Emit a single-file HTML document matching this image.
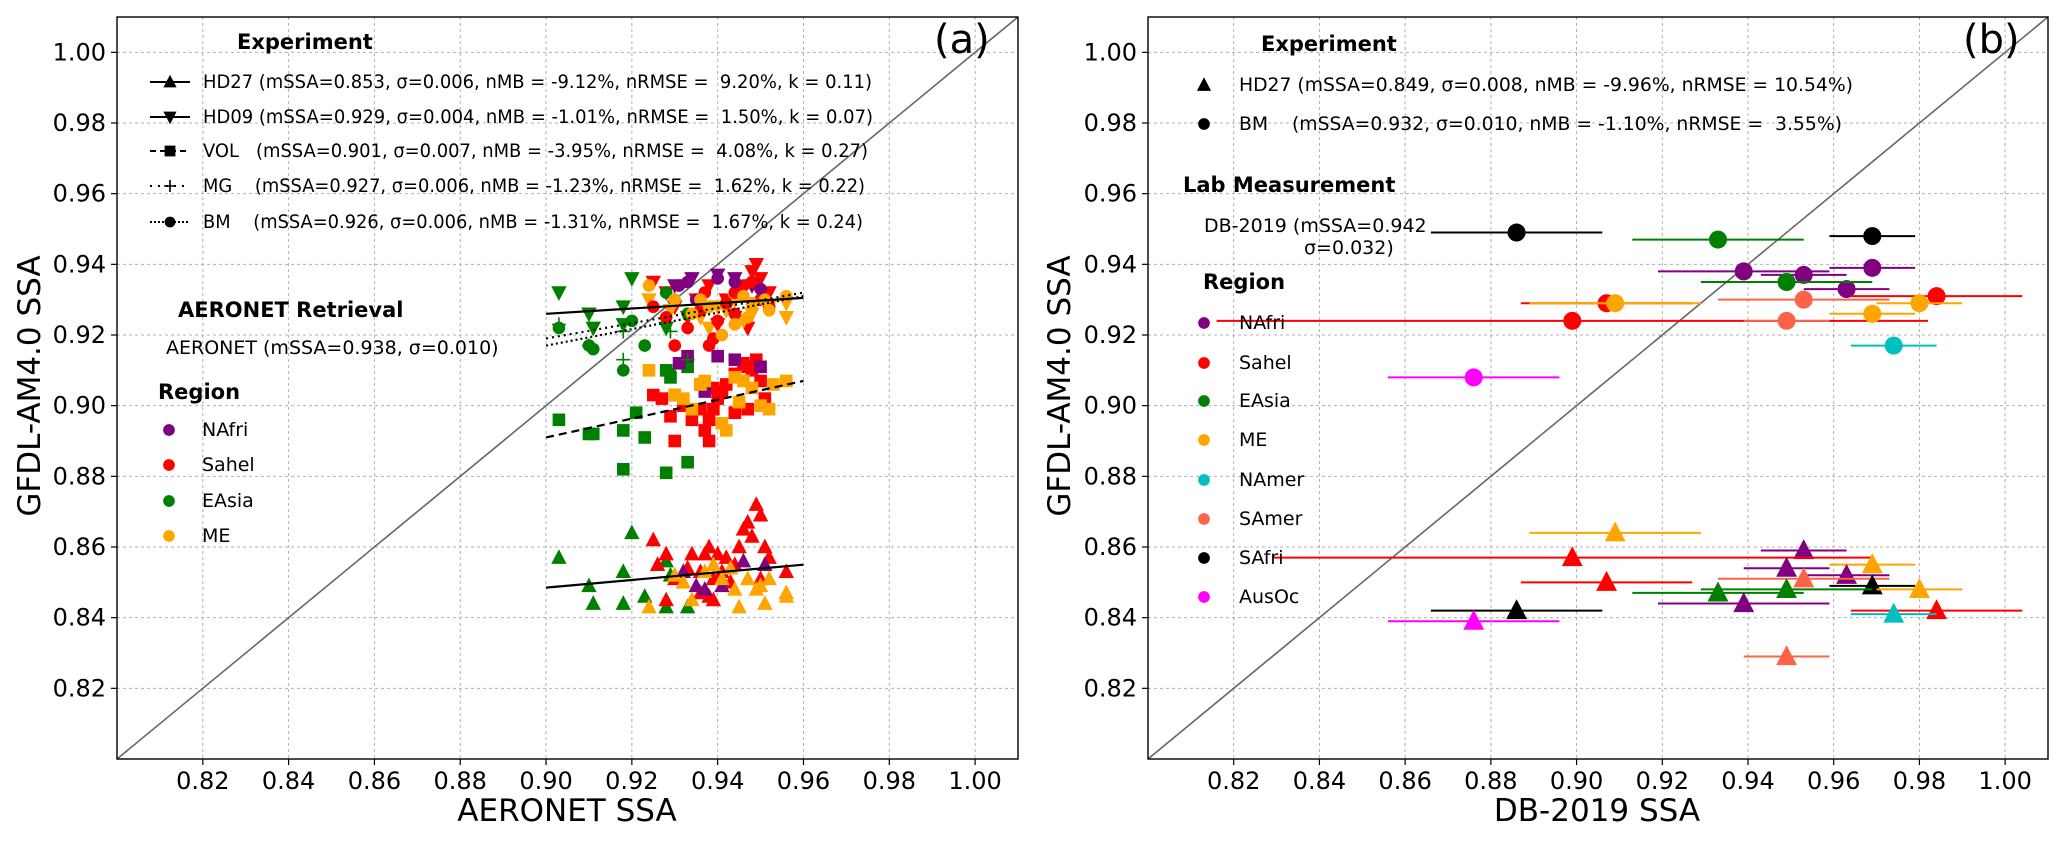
<!DOCTYPE html>
<html><head><meta charset="utf-8">
<style>
html,body{margin:0;padding:0;background:#fff;}
svg{display:block;font-family:"DejaVu Sans","Liberation Sans",sans-serif;}
svg text{white-space:pre;}
</style></head>
<body>
<svg id="fig" width="2067" height="841" viewBox="0 0 2067 841" xmlns="http://www.w3.org/2000/svg">
<g id="pa"></g>
<g id="pb"></g>
</svg>
<script>
// ---------- shared axis data ----------
const ticks = [0.82,0.84,0.86,0.88,0.90,0.92,0.94,0.96,0.98,1.00];
const tickLabels = ["0.82","0.84","0.86","0.88","0.90","0.92","0.94","0.96","0.98","1.00"];
const regionNamesA = ["NAfri","Sahel","EAsia","ME"];
const regionNamesB = ["NAfri","Sahel","EAsia","ME","NAmer","SAmer","SAfri","AusOc"];
const regionColors = {NAfri:"#800080",Sahel:"#ff0000",EAsia:"#008000",ME:"#ffa500",NAmer:"#00bfbf",SAmer:"#ff6347",SAfri:"#000000",AusOc:"#ff00ff"};

// ---------- panel (a) data: [AERONET, model] ----------
const hd27_EAsia = [[0.903,0.857],[0.910,0.849],[0.911,0.844],[0.918,0.853],[0.918,0.844],[0.920,0.864],[0.923,0.846],[0.928,0.843],[0.928,0.856],[0.933,0.843],[0.929,0.852]];
const hd27_Sahel = [[0.925,0.862],[0.926,0.855],[0.928,0.858],[0.930,0.851],[0.933,0.854],[0.934,0.858],[0.936,0.853],[0.937,0.858],[0.938,0.846],[0.938,0.860],[0.939,0.851],[0.940,0.858],[0.942,0.857],[0.943,0.850],[0.945,0.860],[0.946,0.865],[0.947,0.867],[0.948,0.863],[0.949,0.872],[0.950,0.869],[0.951,0.860],[0.952,0.857],[0.950,0.851],[0.956,0.853],[0.928,0.845],[0.936,0.847],[0.941,0.853],[0.944,0.855],[0.939,0.845]];
const hd27_NAfri = [[0.932,0.853],[0.935,0.849],[0.937,0.848],[0.946,0.856],[0.951,0.855],[0.941,0.849]];
const hd27_ME = [[0.924,0.843],[0.930,0.852],[0.932,0.850],[0.934,0.845],[0.937,0.853],[0.939,0.855],[0.941,0.851],[0.944,0.848],[0.945,0.843],[0.947,0.851],[0.949,0.848],[0.950,0.849],[0.951,0.844],[0.952,0.851],[0.956,0.846],[0.956,0.847],[0.943,0.854]];

const hd09_EAsia = [[0.903,0.932],[0.910,0.926],[0.911,0.922],[0.918,0.928],[0.920,0.936],[0.918,0.923],[0.928,0.922]];
const hd09_Sahel = [[0.925,0.935],[0.928,0.932],[0.930,0.928],[0.935,0.930],[0.938,0.934],[0.942,0.930],[0.946,0.933],[0.948,0.938],[0.949,0.940],[0.950,0.936],[0.952,0.932],[0.944,0.925],[0.940,0.923],[0.933,0.925],[0.947,0.922]];
const hd09_NAfri = [[0.930,0.934],[0.934,0.936],[0.940,0.937],[0.944,0.936],[0.948,0.934]];
const hd09_ME = [[0.929,0.927],[0.936,0.925],[0.940,0.928],[0.944,0.930],[0.946,0.924],[0.948,0.926],[0.952,0.928],[0.956,0.925],[0.956,0.929],[0.938,0.922],[0.924,0.930],[0.942,0.927]];

const vol_EAsia = [[0.903,0.896],[0.910,0.892],[0.911,0.892],[0.918,0.893],[0.918,0.882],[0.921,0.898],[0.923,0.891],[0.928,0.881],[0.928,0.910],[0.929,0.908],[0.933,0.884],[0.933,0.911]];
const vol_Sahel = [[0.925,0.903],[0.927,0.902],[0.929,0.897],[0.930,0.890],[0.932,0.900],[0.934,0.896],[0.936,0.899],[0.937,0.893],[0.938,0.890],[0.938,0.896],[0.939,0.899],[0.940,0.902],[0.941,0.904],[0.942,0.906],[0.944,0.909],[0.946,0.912],[0.947,0.911],[0.948,0.910],[0.949,0.913],[0.950,0.907],[0.951,0.902],[0.947,0.899],[0.944,0.898],[0.939,0.905],[0.936,0.906],[0.930,0.903]];
const vol_NAfri = [[0.931,0.912],[0.933,0.914],[0.940,0.914],[0.944,0.913],[0.950,0.911],[0.937,0.904]];
const vol_ME = [[0.924,0.910],[0.930,0.903],[0.932,0.902],[0.934,0.899],[0.936,0.906],[0.937,0.907],[0.941,0.895],[0.942,0.893],[0.945,0.901],[0.946,0.907],[0.948,0.905],[0.950,0.900],[0.952,0.899],[0.953,0.906],[0.956,0.907],[0.944,0.908]];

const mg_EAsia = [[0.903,0.923],[0.910,0.917],[0.918,0.913],[0.918,0.921],[0.929,0.921],[0.933,0.913]];

const bm_EAsia = [[0.903,0.922],[0.910,0.917],[0.911,0.916],[0.918,0.910],[0.920,0.924],[0.923,0.917],[0.928,0.932],[0.929,0.909],[0.933,0.926]];
const bm_Sahel = [[0.925,0.928],[0.928,0.925],[0.930,0.917],[0.933,0.922],[0.936,0.927],[0.938,0.917],[0.939,0.919],[0.940,0.924],[0.942,0.929],[0.944,0.932],[0.946,0.934],[0.948,0.935],[0.950,0.930],[0.952,0.928],[0.944,0.926],[0.937,0.932]];
const bm_NAfri = [[0.931,0.934],[0.933,0.935],[0.940,0.936],[0.944,0.935],[0.950,0.933],[0.935,0.930]];
const bm_ME = [[0.924,0.934],[0.930,0.930],[0.934,0.926],[0.936,0.930],[0.938,0.928],[0.941,0.920],[0.944,0.923],[0.946,0.931],[0.948,0.929],[0.951,0.930],[0.952,0.927],[0.956,0.931],[0.947,0.925]];

// regression lines: [x0,y0,x1,y1]
const fitHD27 = [0.90,0.8485,0.96,0.855];
const fitHD09 = [0.90,0.926,0.96,0.9305];
const fitVOL = [0.90,0.891,0.96,0.907];
const fitMG = [0.90,0.919,0.96,0.932];
const fitBM = [0.90,0.917,0.96,0.931];

const legendA = ["HD27 (mSSA=0.853, \u03c3=0.006, nMB = -9.12%, nRMSE =  9.20%, k = 0.11)",
 "HD09 (mSSA=0.929, \u03c3=0.004, nMB = -1.01%, nRMSE =  1.50%, k = 0.07)",
 "VOL   (mSSA=0.901, \u03c3=0.007, nMB = -3.95%, nRMSE =  4.08%, k = 0.27)",
 "MG    (mSSA=0.927, \u03c3=0.006, nMB = -1.23%, nRMSE =  1.62%, k = 0.22)",
 "BM    (mSSA=0.926, \u03c3=0.006, nMB = -1.31%, nRMSE =  1.67%, k = 0.24)"];

// ---------- panel (b) data ----------
const bmRegion = ["SAfri","EAsia","SAfri","NAfri","NAfri","NAfri","NAfri","EAsia","Sahel","ME","Sahel","SAmer","Sahel","ME","ME","SAmer","NAmer","AusOc"];
const bmX = [0.886,0.933,0.969,0.939,0.953,0.969,0.963,0.949,0.907,0.909,0.899,0.953,0.984,0.980,0.969,0.949,0.974,0.876];
const bmY = [0.949,0.947,0.948,0.938,0.937,0.939,0.933,0.935,0.929,0.929,0.924,0.930,0.931,0.929,0.926,0.924,0.917,0.908];
const bmErr = [0.020,0.020,0.010,0.020,0.010,0.010,0.010,0.020,0.020,0.020,0.083,0.020,0.020,0.010,0.010,0.010,0.010,0.020];
const hdRegion = ["ME","NAfri","Sahel","ME","NAfri","NAfri","SAmer","Sahel","SAfri","ME","EAsia","EAsia","NAfri","Sahel","SAfri","NAmer","AusOc","SAmer"];
const hdX = [0.909,0.953,0.899,0.969,0.949,0.963,0.953,0.907,0.969,0.980,0.933,0.949,0.939,0.984,0.886,0.974,0.876,0.949];
const hdY = [0.864,0.859,0.857,0.855,0.854,0.852,0.851,0.850,0.849,0.848,0.847,0.848,0.844,0.842,0.842,0.841,0.839,0.829];
const hdErr = [0.020,0.010,0.070,0.010,0.010,0.010,0.020,0.020,0.010,0.010,0.020,0.020,0.020,0.020,0.020,0.010,0.020,0.010];
const legendB = ["HD27 (mSSA=0.849, \u03c3=0.008, nMB = -9.96%, nRMSE = 10.54%)",
 "BM    (mSSA=0.932, \u03c3=0.010, nMB = -1.10%, nRMSE =  3.55%)"];

// ---------- helpers ----------
const NS="http://www.w3.org/2000/svg";
function el(parent,tag,attrs,txt){const e=document.createElementNS(NS,tag);for(const k in attrs)e.setAttribute(k,attrs[k]);if(txt!==undefined)e.textContent=txt;parent.appendChild(e);return e;}
const squeezeList=[];
function txt(parent,x,y,s,size,opts){opts=opts||{};
 const t=el(parent,"text",{x:x,y:y,"font-size":size,"text-anchor":opts.anchor||"start","dominant-baseline":"central","font-weight":opts.bold?"bold":"normal",fill:"#000"},s);
 if(opts.rot)t.setAttribute("transform","rotate(-90 "+x+" "+y+")");
 squeezeList.push(t);return t;}
function marker(g,shape,cx,cy,s,color){
 let m;
 if(shape==="up")m=el(g,"polygon",{points:`${cx},${cy-s*0.6} ${cx-s*0.55},${cy+s*0.45} ${cx+s*0.55},${cy+s*0.45}`,fill:color});
 else if(shape==="down")m=el(g,"polygon",{points:`${cx},${cy+s*0.6} ${cx-s*0.55},${cy-s*0.45} ${cx+s*0.55},${cy-s*0.45}`,fill:color});
 else if(shape==="sq")m=el(g,"rect",{x:cx-s*0.45,y:cy-s*0.45,width:s*0.9,height:s*0.9,fill:color});
 else if(shape==="circ")m=el(g,"circle",{cx:cx,cy:cy,r:s*0.45,fill:color});
 else if(shape==="plus")m=el(g,"path",{d:`M${cx-s*0.5},${cy}H${cx+s*0.5}M${cx},${cy-s*0.5}V${cy+s*0.5}`,stroke:color,"stroke-width":1.6,fill:"none"});
 return m;}

function axes(g,L,T,R,B){
 const sx=d=>L+(d-0.80)/0.21*(R-L), sy=d=>B-(d-0.80)/0.21*(B-T);
 const grid=el(g,"g",{});
 
 
 ticks.forEach((t,i)=>{
  el(grid,"line",{x1:sx(t),x2:sx(t),y1:T,y2:B,stroke:"#b0b0b0","stroke-width":1,"stroke-dasharray":"3,3"});
  el(grid,"line",{x1:L,x2:R,y1:sy(t),y2:sy(t),stroke:"#b0b0b0","stroke-width":1,"stroke-dasharray":"3,3"});
  el(g,"line",{x1:sx(t),x2:sx(t),y1:B,y2:B+6,stroke:"#000","stroke-width":1.2});
  el(g,"line",{x1:L-6,x2:L,y1:sy(t),y2:sy(t),stroke:"#000","stroke-width":1.2});
  const xl=txt(g,sx(t),B+22,tickLabels[i],24,{anchor:"middle"});
  
  
  const yl=txt(g,L-11,sy(t),tickLabels[i],24,{anchor:"end"});
  
  
 });
 const dg=el(g,"line",{x1:sx(0.80),y1:sy(0.80),x2:sx(1.01),y2:sy(1.01),stroke:"#666","stroke-width":1.6});
 
 
 return {sx,sy};
}
function frame(g,L,T,R,B){const f=el(g,"rect",{x:L,y:T,width:R-L,height:B-T,fill:"none",stroke:"#000","stroke-width":1.4});
 
 }

// ---------- panel (a) ----------
(function(){
 const g=document.getElementById("pa");
 const L=117,T=17,R=1018,B=759;
 const {sx,sy}=axes(g,L,T,R,B);
 const ms=14;
 const sets=[
  ["up",[hd27_EAsia,hd27_Sahel,hd27_NAfri,hd27_ME]],
  ["down",[hd09_EAsia,hd09_Sahel,hd09_NAfri,hd09_ME]],
  ["sq",[vol_EAsia,vol_Sahel,vol_NAfri,vol_ME]],
  ["circ",[bm_EAsia,bm_Sahel,bm_NAfri,bm_ME]],
  ["plus",[mg_EAsia]]];
 const cols=["EAsia","Sahel","NAfri","ME"];
 sets.forEach(([shape,arrs])=>{
  arrs.forEach((arr,ri)=>{
   const gg=el(g,"g",{});
   
   
   arr.forEach(p=>{const m=marker(gg,shape,sx(p[0]),sy(p[1]),ms,regionColors[cols[ri]]);
    
    });
  });
 });
 const fits=[[fitHD27,""],[fitHD09,""],[fitVOL,"8,5"],[fitMG,"2,4"],[fitBM,"2,3"]];
 fits.forEach(([f,d])=>{
  const ln=el(g,"line",{x1:sx(f[0]),y1:sy(f[1]),x2:sx(f[2]),y2:sy(f[3]),stroke:"#000","stroke-width":2.2,"stroke-dasharray":d});
  
  
 });
 frame(g,L,T,R,B);
 const lg=el(g,"g",{});
 
 
 txt(lg,237,42,"Experiment",21,{bold:true});
 const shapes=["up","down","sq","plus","circ"], dashes=["","","6,4","2,6","2,2"], rowY=[82,117,151,186,222];
 legendA.forEach((s,i)=>{
  el(lg,"line",{x1:150,x2:190,y1:rowY[i],y2:rowY[i],stroke:"#000","stroke-width":2,"stroke-dasharray":dashes[i]});
  marker(lg,shapes[i],170,rowY[i],12,"#000");
  const t=txt(lg,203,rowY[i],s,19);
  
  
  t.dataset.w=[669,670,665,662,660][i];
 });
 const ag=el(g,"g",{});
 
 
 txt(ag,178,310,"AERONET Retrieval",21,{bold:true});
 txt(ag,166,348,"AERONET (mSSA=0.938, \u03c3=0.010)",19);
 const rg=el(g,"g",{});
 
 
 txt(rg,158,392,"Region",21,{bold:true});
 const ry=[430,465,501,536];
 regionNamesA.forEach((n,i)=>{marker(rg,"circ",169,ry[i],13,regionColors[n]);
  const t=txt(rg,202,ry[i],n,19);
  
  });
 txt(g,934,40,"(a)",40);
 const yl=txt(g,30,386,"GFDL-AM4.0 SSA",31,{anchor:"middle",rot:true});
 
 
 const xl=txt(g,567,811,"AERONET SSA",31,{anchor:"middle"});
 
 
})();

// ---------- panel (b) ----------
(function(){
 const g=document.getElementById("pb");
 const L=1148,T=17,R=2048,B=759;
 const {sx,sy}=axes(g,L,T,R,B);
 function draw(regs,xs,ys,errs,shape,size){
  regs.forEach((r,i)=>{
   const c=regionColors[r];
   const e=el(g,"line",{x1:sx(xs[i]-errs[i]),x2:sx(xs[i]+errs[i]),y1:sy(ys[i]),y2:sy(ys[i]),stroke:c,"stroke-width":2});
   
   
   const m=marker(g,shape,sx(xs[i]),sy(ys[i]),size,c);
   
   
  });
 }
 draw(bmRegion,bmX,bmY,bmErr,"circ",20);
 draw(hdRegion,hdX,hdY,hdErr,"up",19);
 frame(g,L,T,R,B);
 const lg=el(g,"g",{});
 
 
 txt(lg,1261,44,"Experiment",21,{bold:true});
 marker(lg,"up",1204,85,13,"#000");
 marker(lg,"circ",1204,124,13,"#000");
 const t1=txt(lg,1239,85,legendB[0],19); t1.dataset.w=614;
 
 
 const t2=txt(lg,1239,124,legendB[1],19); t2.dataset.w=603;
 
 
 const lab=el(g,"g",{});
 
 
 txt(lab,1183,185,"Lab Measurement",21,{bold:true});
 txt(lab,1204,226,"DB-2019 (mSSA=0.942",19);
 txt(lab,1304,248,"\u03c3=0.032)",19);
 const rg=el(g,"g",{});
 
 
 txt(rg,1203,282,"Region",21,{bold:true});
 const ry=[323,363,401,440,480,519,558,597];
 regionNamesB.forEach((n,i)=>{marker(rg,"circ",1204,ry[i],13,regionColors[n]);
  const t=txt(rg,1239,ry[i],n,19);
  
  });
 txt(g,1963,40,"(b)",40);
 const yl=txt(g,1060,386,"GFDL-AM4.0 SSA",31,{anchor:"middle",rot:true});
 
 
 const xl=txt(g,1597,811,"DB-2019 SSA",31,{anchor:"middle"});
 
 
})();

// fit long legend lines to measured widths
squeezeList.forEach(t=>{
 if(t.dataset.w){t.setAttribute("textLength",t.dataset.w);t.setAttribute("lengthAdjust","spacingAndGlyphs");}
});
</script>
</body></html>
